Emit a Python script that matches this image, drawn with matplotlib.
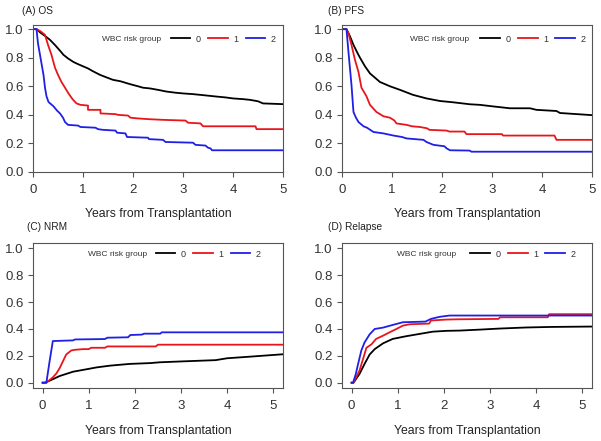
import matplotlib.pyplot as plt

plt.rcParams['font.family'] = ['Liberation Sans', 'DejaVu Sans']

# ---- data: (years, estimate) knots; a repeated year is a step ----
# (A) OS
os_t0 = [0, 0.07, 0.15, 0.25, 0.34, 0.45, 0.55, 0.61, 0.7, 0.81, 0.9, 1.0, 1.1, 1.2, 1.34, 1.45, 1.6, 1.75, 1.94, 2.1, 2.2, 2.34, 2.5, 2.67, 2.85, 3.0, 3.2, 3.4, 3.67, 3.85, 4.0, 4.2, 4.34, 4.5, 4.6, 5.0]
os_v0 = [1.0, 1.0, 0.975, 0.95, 0.925, 0.885, 0.845, 0.82, 0.795, 0.77, 0.755, 0.74, 0.725, 0.705, 0.68, 0.665, 0.645, 0.635, 0.615, 0.6, 0.59, 0.585, 0.575, 0.563, 0.555, 0.55, 0.545, 0.538, 0.528, 0.522, 0.515, 0.51, 0.505, 0.495, 0.48, 0.475]
os_t1 = [0, 0.07, 0.15, 0.24, 0.3, 0.37, 0.44, 0.5, 0.57, 0.64, 0.71, 0.79, 0.87, 0.95, 1.1, 1.1, 1.35, 1.35, 1.65, 1.7, 1.9, 1.95, 2.1, 2.3, 2.6, 3.05, 3.1, 3.35, 3.4, 4.45, 4.47, 5.0]
os_v1 = [1.0, 1.0, 0.985, 0.96, 0.89, 0.82, 0.73, 0.68, 0.63, 0.59, 0.55, 0.51, 0.48, 0.47, 0.465, 0.435, 0.435, 0.41, 0.405, 0.40, 0.395, 0.38, 0.375, 0.37, 0.365, 0.36, 0.345, 0.34, 0.32, 0.32, 0.30, 0.30]
os_t2 = [0, 0.07, 0.1, 0.14, 0.18, 0.21, 0.24, 0.27, 0.31, 0.41, 0.48, 0.54, 0.6, 0.64, 0.7, 0.9, 0.95, 1.25, 1.3, 1.4, 1.65, 1.68, 1.85, 1.88, 2.3, 2.32, 2.6, 2.65, 3.2, 3.25, 3.45, 3.5, 3.55, 3.58, 5.0]
os_v2 = [1.0, 1.0, 0.9, 0.82, 0.74, 0.68, 0.59, 0.53, 0.49, 0.46, 0.43, 0.41, 0.38, 0.35, 0.33, 0.325, 0.315, 0.31, 0.30, 0.295, 0.29, 0.275, 0.27, 0.245, 0.24, 0.23, 0.225, 0.21, 0.205, 0.19, 0.185, 0.17, 0.165, 0.152, 0.152]

# (B) PFS
pfs_t0 = [0, 0.09, 0.16, 0.23, 0.3, 0.36, 0.46, 0.56, 0.66, 0.76, 0.86, 0.96, 1.16, 1.42, 1.69, 1.96, 2.22, 2.56, 2.76, 3.0, 3.36, 3.76, 3.89, 4.29, 4.36, 4.7, 5.0]
pfs_v0 = [1.0, 1.0, 0.95, 0.89, 0.84, 0.80, 0.74, 0.69, 0.66, 0.63, 0.615, 0.60, 0.575, 0.54, 0.515, 0.497, 0.488, 0.474, 0.47, 0.46, 0.446, 0.446, 0.435, 0.427, 0.413, 0.405, 0.398]
pfs_t1 = [0, 0.09, 0.13, 0.19, 0.26, 0.33, 0.39, 0.49, 0.56, 0.69, 0.83, 0.96, 1.05, 1.09, 1.29, 1.4, 1.56, 1.7, 1.75, 2.09, 2.15, 2.45, 2.49, 3.2, 3.22, 4.25, 4.29, 5.0]
pfs_v1 = [1.0, 1.0, 0.97, 0.89, 0.785, 0.70, 0.59, 0.53, 0.47, 0.42, 0.39, 0.38, 0.36, 0.34, 0.33, 0.32, 0.315, 0.306, 0.295, 0.29, 0.283, 0.283, 0.265, 0.265, 0.255, 0.255, 0.225, 0.225]
pfs_t2 = [0, 0.09, 0.13, 0.19, 0.23, 0.28, 0.33, 0.43, 0.5, 0.63, 0.83, 1.03, 1.2, 1.29, 1.63, 1.69, 1.83, 2.05, 2.09, 2.16, 2.55, 2.59, 5.0]
pfs_v2 = [1.0, 1.0, 0.84, 0.61, 0.42, 0.38, 0.35, 0.32, 0.31, 0.28, 0.27, 0.255, 0.245, 0.235, 0.225, 0.21, 0.19, 0.18, 0.166, 0.152, 0.15, 0.142, 0.142]

# (C) NRM
nrm_t0 = [0, 0.05, 0.15, 0.37, 0.66, 0.95, 1.17, 1.46, 1.89, 2.33, 2.54, 3.05, 3.75, 4.0, 4.5, 5.22]
nrm_v0 = [0.0, 0.0, 0.015, 0.05, 0.082, 0.10, 0.114, 0.127, 0.14, 0.146, 0.152, 0.159, 0.168, 0.182, 0.194, 0.212]
nrm_t1 = [0, 0.08, 0.15, 0.22, 0.3, 0.37, 0.44, 0.51, 0.62, 0.7, 0.88, 1.0, 1.05, 1.35, 1.4, 2.45, 2.5, 5.22]
nrm_v1 = [0.0, 0.0, 0.02, 0.04, 0.07, 0.11, 0.16, 0.21, 0.24, 0.245, 0.25, 0.25, 0.26, 0.26, 0.27, 0.27, 0.283, 0.283]
nrm_t2 = [0, 0.08, 0.15, 0.22, 0.66, 0.7, 1.35, 1.4, 1.85, 1.9, 2.15, 2.2, 2.55, 2.58, 5.22]
nrm_v2 = [0.0, 0.0, 0.16, 0.31, 0.315, 0.322, 0.325, 0.335, 0.338, 0.355, 0.358, 0.365, 0.365, 0.375, 0.375]

# (D) Relapse
rel_t0 = [0, 0.04, 0.17, 0.28, 0.39, 0.5, 0.68, 0.89, 1.18, 1.47, 1.76, 2.05, 2.34, 2.77, 3.2, 3.78, 4.3, 5.22]
rel_v0 = [0.0, 0.0, 0.065, 0.14, 0.21, 0.25, 0.293, 0.326, 0.346, 0.363, 0.38, 0.386, 0.388, 0.395, 0.403, 0.411, 0.415, 0.418]
rel_t1 = [0, 0.04, 0.17, 0.25, 0.32, 0.43, 0.53, 0.68, 0.82, 0.97, 1.11, 1.26, 1.68, 1.72, 2.05, 2.3, 3.18, 3.22, 4.25, 4.28, 5.22]
rel_v1 = [0.0, 0.0, 0.09, 0.18, 0.26, 0.286, 0.326, 0.35, 0.375, 0.40, 0.425, 0.435, 0.44, 0.463, 0.47, 0.472, 0.475, 0.487, 0.487, 0.51, 0.51]
rel_t2 = [0, 0.03, 0.09, 0.14, 0.21, 0.28, 0.39, 0.5, 0.68, 0.89, 1.11, 1.6, 1.72, 1.9, 2.12, 5.22]
rel_v2 = [0.0, 0.0, 0.065, 0.14, 0.24, 0.30, 0.36, 0.40, 0.41, 0.43, 0.45, 0.455, 0.475, 0.49, 0.50, 0.50]

groups = ['0', '1', '2']
colors = ['black', '#e8161b', '#1f1fe6']

panels = [
    ('(A) OS', [(os_t0, os_v0), (os_t1, os_v1), (os_t2, os_v2)]),
    ('(B) PFS', [(pfs_t0, pfs_v0), (pfs_t1, pfs_v1), (pfs_t2, pfs_v2)]),
    ('(C) NRM', [(nrm_t0, nrm_v0), (nrm_t1, nrm_v1), (nrm_t2, nrm_v2)]),
    ('(D) Relapse', [(rel_t0, rel_v0), (rel_t1, rel_v1), (rel_t2, rel_v2)]),
]

# axes boxes in figure fractions (left, bottom, width, height)
boxes = [
    (0.0549, 0.610, 0.416, 0.333),
    (0.569, 0.610, 0.416, 0.333),
    (0.0549, 0.120, 0.416, 0.329),
    (0.569, 0.120, 0.416, 0.329),
]
title_pos = [(0.037, 0.986), (0.546, 0.986), (0.045, 0.496), (0.546, 0.496)]
leg_text_x = [0.276, 0.272, 0.22, 0.22]
leg_line_x = [0.56, 0.564, 0.50, 0.524]

fig = plt.figure(figsize=(6.01, 4.41), dpi=100)

for i, (title, curves) in enumerate(panels):
    ax = fig.add_axes(boxes[i])
    for (t, v), c, g in zip(curves, colors, groups):
        ax.plot(t, v, color=c, lw=1.3, label=g)
    if i < 2:
        ax.set_xlim(0, 5)
        ax.set_ylim(0, 1.028)
        ly = 0.905
    else:
        ax.set_xlim(-0.21, 5.21)
        ax.set_ylim(-0.04, 1.04)
        ly = 0.924
    ax.set_xticks([0, 1, 2, 3, 4, 5])
    ax.set_yticks([0.0, 0.2, 0.4, 0.6, 0.8, 1.0])
    ax.set_yticklabels(['0.0', '0.2', '0.4', '0.6', '0.8', '1.0'])
    ax.tick_params(direction='out', length=3.6, width=0.8, labelsize=9.5,
                   labelcolor='#333333', color='#555555')
    ax.tick_params(axis='x', pad=5)
    ax.tick_params(axis='y', pad=3)
    for s in ax.spines.values():
        s.set_color('#555555')
        s.set_linewidth(0.8)
    ax.set_xlabel('Years from Transplantation', fontsize=8.8, color='#222222', labelpad=9)
    fig.text(title_pos[i][0], title_pos[i][1], title, fontsize=7.3, color='#222222', va='top')
    ax.text(leg_text_x[i], ly, 'WBC risk group', transform=ax.transAxes,
            fontsize=6, color='#333333', va='center')
    ax.legend(loc='center left', bbox_to_anchor=(leg_line_x[i] - 0.01, ly), ncol=3,
              frameon=False, fontsize=6.5, handlelength=2.2, handletextpad=0.6,
              columnspacing=0.8, borderpad=0, borderaxespad=0, labelcolor='#333333')

fig.savefig('out.png', dpi=100)
